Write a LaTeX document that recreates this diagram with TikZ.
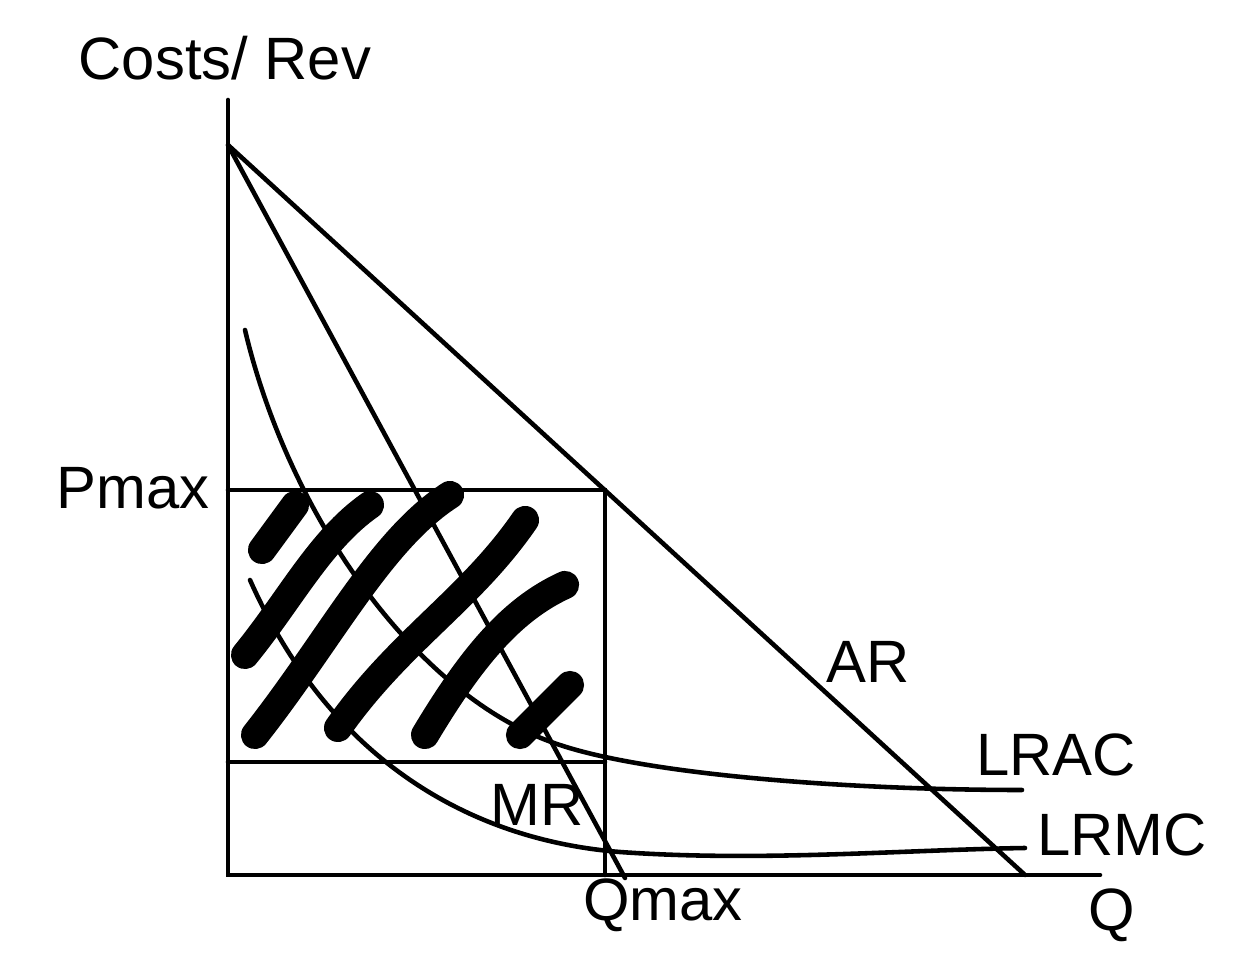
\documentclass[tikz,border=0pt]{standalone}
\usepackage{fontspec}
\setmainfont{Liberation Sans}
\begin{document}
\begin{tikzpicture}[x=0.01cm,y=-0.01cm,
  ln/.style={line width=1.3pt,line cap=round},
  hatch/.style={line width=8pt,line cap=round},
  lbl/.style={font=\fontsize{17}{19}\selectfont}]
\useasboundingbox (0,0) rectangle (1236,964);
\coordinate (ytop) at (228,100);
\coordinate (o) at (228,875);
\coordinate (xend) at (1100,875);
\coordinate (top) at (228,145);
\coordinate (arend) at (1025,875);
\coordinate (mrend) at (625,878);
\coordinate (pm) at (228,490);
\coordinate (pq) at (605,490);
\coordinate (qm) at (605,875);
\coordinate (ac1) at (228,762);
\coordinate (ac2) at (605,762);
\draw[ln] (ytop) -- (o) -- (xend);
\draw[ln] (top) -- (arend);
\draw[ln] (top) -- (mrend);
\draw[ln] (pm) -- (pq) -- (qm);
\draw[ln] (ac1) -- (ac2);
% LRAC
\draw[ln] (245,330) .. controls (290,520) and (420,700) .. (560,745)
  .. controls (650,775) and (850,790) .. (1022,790);
% LRMC
\draw[ln] (250,580) .. controls (330,760) and (470,840) .. (620,852)
  .. controls (760,862) and (900,850) .. (1025,848);
% hatching
\draw[hatch] (262,550) -- (295,505);
\draw[hatch] (245,655) .. controls (290,600) and (320,540) .. (370,505);
\draw[hatch] (255,735) .. controls (330,640) and (380,540) .. (450,495);
\draw[hatch] (338,728) .. controls (400,640) and (470,600) .. (525,520);
\draw[hatch] (425,735) .. controls (470,660) and (510,610) .. (565,585);
\draw[hatch] (520,735) -- (570,685);
% labels
\node[lbl] (ylab) at (225,58) {Costs/ Rev};
\node[lbl] (pmax) at (133,488) {Pmax};
\node[lbl] (ar) at (868,662) {AR};
\node[lbl] (lrac) at (1056,755) {LRAC};
\node[lbl] (lrmc) at (1122,835) {LRMC};
\node[lbl] (mr) at (537,805) {MR};
\node[lbl] (qmax) at (663,905) {Qmax};
\node[lbl] (q) at (1112,915) {Q};
\end{tikzpicture}
\end{document}
